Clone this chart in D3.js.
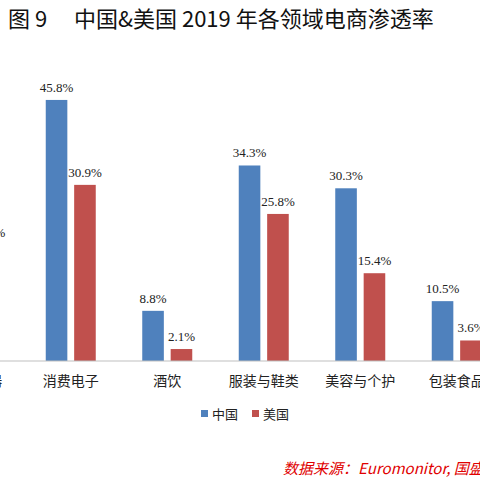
<!DOCTYPE html>
<html><head><meta charset="utf-8">
<script src="https://cdn.jsdelivr.net/npm/d3@7"></script>
<style>body{margin:0;background:#fff}svg{display:block}</style>
</head><body>
<svg id="chart" width="480" height="480"></svg>
<script>
const categories = ["家用电器", "消费电子", "酒饮", "服装与鞋类", "美容与个护", "包装食品"];
const series = ["中国", "美国"];
const china = [38.0, 45.8, 8.8, 34.3, 30.3, 10.5];
const usa = [20.4, 30.9, 2.1, 25.8, 15.4, 3.6];
const colors = ["#4F81BD", "#C0504D"];

const svg = d3.select("#chart");
const base = 361;

const x = d3.scaleBand().domain(categories).range([-74, 505]);
const x1 = d3.scaleBand().domain(series).range([-25, 25]).paddingInner(0.24);
const y = d3.scaleLinear().domain([0, 50]).range([base, base - 285]);

svg.append("text").attr("x", 8).attr("y", 27)
  .attr("font-family", "Noto Sans CJK SC").attr("font-size", 22).attr("fill", "#111")
  .attr("xml:space", "preserve")
  .text("图 9　 中国&美国 2019 年各领域电商渗透率");

const data = categories.flatMap((c, i) => [
  { c, s: "中国", v: china[i] }, { c, s: "美国", v: usa[i] }
]);

const cx = d => x(d.c) + x.bandwidth() / 2 + x1(d.s);

svg.selectAll(".bar").data(data).enter().append("rect")
  .attr("x", cx).attr("width", x1.bandwidth())
  .attr("y", d => y(d.v)).attr("height", d => base - y(d.v))
  .attr("fill", d => colors[series.indexOf(d.s)]);

svg.selectAll(".lbl").data(data).enter().append("text")
  .attr("x", d => cx(d) + x1.bandwidth() / 2).attr("y", d => y(d.v) - 8)
  .attr("text-anchor", "middle").attr("font-family", "Liberation Serif")
  .attr("font-size", 13).attr("fill", "#222")
  .text(d => d.v.toFixed(1) + "%");

svg.append("line").attr("x1", 0).attr("x2", 480).attr("y1", base).attr("y2", base)
  .attr("stroke", "#bfbfbf");

svg.selectAll(".cat").data(categories).enter().append("text")
  .attr("x", d => x(d) + x.bandwidth() / 2).attr("y", base + 25)
  .attr("text-anchor", "middle").attr("font-family", "Noto Sans CJK SC")
  .attr("font-size", 14).attr("fill", "#222").text(d => d);

const lg = svg.append("g").attr("transform", "translate(201,414)");
series.forEach((s, i) => {
  const g = lg.append("g").attr("transform", `translate(${i * 51},0)`);
  g.append("rect").attr("x", 0).attr("y", -4).attr("width", 7).attr("height", 7).attr("fill", colors[i]);
  g.append("text").attr("x", 11).attr("y", 5).attr("font-family", "Noto Sans CJK SC")
    .attr("font-size", 13).attr("fill", "#222").text(s);
});

svg.append("text").attr("x", 283).attr("y", 474)
  .attr("font-family", "Noto Sans CJK SC").attr("font-size", 15).attr("font-style", "italic")
  .attr("fill", "#E00000").text("数据来源：Euromonitor, 国盛证券研究所");
</script>
</body></html>
